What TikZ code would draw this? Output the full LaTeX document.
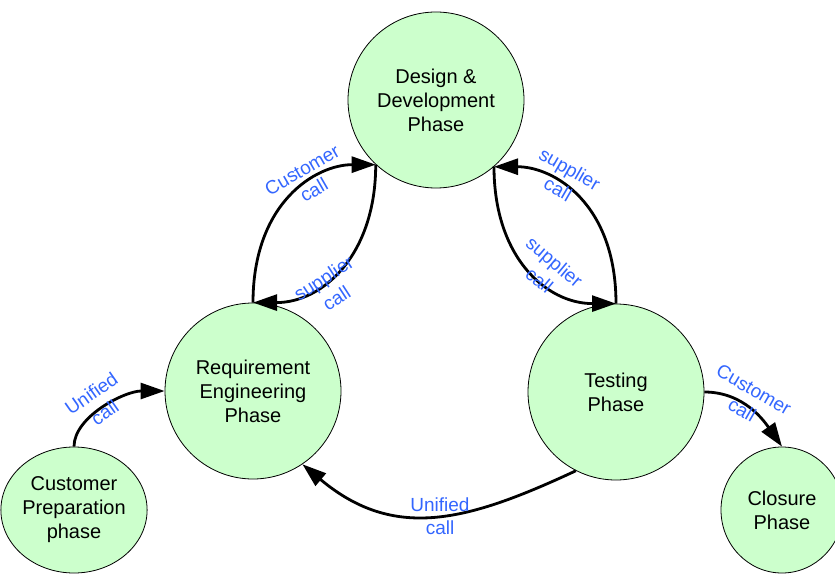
\documentclass[tikz,border=0pt]{standalone}
\usepackage{fontspec}
\setmainfont{Liberation Sans}
\usetikzlibrary{arrows.meta,shapes.geometric}
\definecolor{phasefill}{HTML}{CCFFCC}
\definecolor{lblblue}{HTML}{3366FF}
\begin{document}
\begin{tikzpicture}[x=1pt,y=1pt,
 phase/.style={circle,draw=black,line width=0.8pt,fill=phasefill,minimum size=176pt,inner sep=0pt,align=center,font=\fontsize{20}{24}\selectfont},
 smallphase/.style={ellipse,draw=black,line width=0.8pt,fill=phasefill,minimum width=122pt,minimum height=126pt,inner sep=0pt,align=center,font=\fontsize{20}{24}\selectfont},
 flow/.style={line width=2.8pt,-{Triangle[length=24pt,width=16pt]}},
 lbl/.style={text=lblblue,align=center,font=\fontsize{19}{23.5}\selectfont,inner sep=0pt}]
\useasboundingbox (0,0) rectangle (835,-575);
\node[phase] (dd) at (436,-100) {Design \&\\Development\\Phase};
\node[phase] (req) at (253,-391) {Requirement\\Engineering\\Phase};
\node[phase] (test) at (616,-392) {Testing\\Phase};
\node[smallphase] (cp) at (74,-510) {Customer\\Preparation\\phase};
\node[smallphase] (cl) at (782,-510) {Closure\\Phase};

\draw[flow] (req.north) to[out=90,in=180,out distance=100pt,in distance=60pt] (dd.227);
\draw[flow] (dd.227) to[out=-90,in=0,out distance=90pt,in distance=70pt] (req.north);
\draw[flow] (dd.311) to[out=-90,in=180,out distance=90pt,in distance=70pt] (test.north);
\draw[flow] (test.north) to[out=90,in=0,out distance=100pt,in distance=60pt] (dd.311);
\draw[flow] (cp.north) to[out=90,in=180,out distance=30pt,in distance=40pt] (req.180);
\draw[flow] (test.east) to[out=0,in=125,out distance=40pt,in distance=30pt] (cl.north);
\draw[flow] (test.243) to[out=205,in=-40,distance=120pt] (req.304);

\node[lbl,rotate=30] (l1) at (308,-180) {Customer\\call};
\node[lbl,rotate=33] (l2) at (330,-288) {supplier\\call};
\node[lbl,rotate=-30] (l3) at (564,-179) {supplier\\call};
\node[lbl,rotate=-40] (l4) at (547,-271) {supplier\\call};
\node[lbl,rotate=35] (l5) at (98,-403) {Unified\\call};
\node[lbl,rotate=-30] (l6) at (748,-400) {Customer\\call};
\node[lbl] (l7) at (440,-516) {Unified\\call};
\end{tikzpicture}
\end{document}
